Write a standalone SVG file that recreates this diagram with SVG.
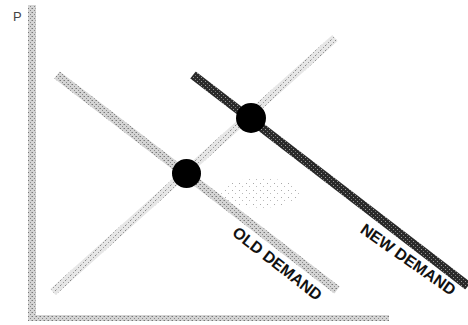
<svg xmlns="http://www.w3.org/2000/svg" width="468" height="325" viewBox="0 0 468 325">
  <defs>
    <pattern id="stipLight" patternUnits="userSpaceOnUse" width="5" height="5">
      <rect width="5" height="5" fill="#e6e6e6"/>
      <rect x="0" y="0" width="1" height="1" fill="#888"/>
      <rect x="3" y="2" width="1" height="1" fill="#999"/>
      <rect x="1" y="4" width="1" height="1" fill="#bbb"/>
    </pattern>
    <pattern id="stipMid" patternUnits="userSpaceOnUse" width="4" height="4">
      <rect width="4" height="4" fill="#d4d4d4"/>
      <rect x="0" y="0" width="1" height="1" fill="#777"/>
      <rect x="2" y="2" width="1" height="1" fill="#888"/>
      <rect x="3" y="0" width="1" height="1" fill="#aaa"/>
    </pattern>
    <pattern id="stipDark" patternUnits="userSpaceOnUse" width="4" height="4">
      <rect width="4" height="4" fill="#2a2a2a"/>
      <rect x="1" y="1" width="1" height="1" fill="#9a9a9a"/>
      <rect x="3" y="3" width="1" height="1" fill="#777"/>
    </pattern>
    <pattern id="stipBlob" patternUnits="userSpaceOnUse" width="7" height="7">
      <rect width="7" height="7" fill="#fff"/>
      <rect x="1" y="1" width="1" height="1" fill="#aaa"/>
      <rect x="4" y="4" width="1" height="1" fill="#bbb"/>
    </pattern>
  </defs>
  <style>
    .axis { stroke: url(#stipMid); fill: none; }
    .supply { stroke: url(#stipLight); stroke-width: 8; fill: none; }
    .old { stroke: url(#stipMid); stroke-width: 9; fill: none; }
    .new { stroke: url(#stipDark); stroke-width: 9; fill: none; }
    .eq { fill: #000; }
    .lbl { font-family: "Liberation Sans", Arial, sans-serif; font-weight: bold; font-size: 16px; fill: #111; text-anchor: middle; }
    .axlbl { font-family: "Liberation Sans", Arial, sans-serif; font-size: 13px; fill: #444; }
  </style>
  <rect width="468" height="325" fill="#fff"/>

  <g id="axes">
    <line class="axis" x1="32" y1="5" x2="32" y2="321" stroke-width="8"/>
    <line class="axis" x1="28" y1="318" x2="389" y2="318" stroke-width="6"/>
    <text class="axlbl" x="13" y="21">P</text>
  </g>

  <g id="blob">
    <ellipse cx="261" cy="193" rx="40" ry="15" fill="url(#stipBlob)"/>
  </g>

  <g id="connectors">
    <line id="supply" class="supply" x1="53" y1="292" x2="335" y2="38"/>
    <line id="old-demand" class="old" x1="57" y1="75" x2="337" y2="290"/>
    <line id="new-demand" class="new" x1="193" y1="75" x2="468" y2="286"/>
  </g>

  <g id="old-equilibrium">
    <circle class="eq" cx="186.5" cy="173.5" r="14.5"/>
  </g>
  <g id="new-equilibrium">
    <circle class="eq" cx="251" cy="118" r="15"/>
  </g>

  <g id="old-demand-label">
    <text class="lbl" transform="translate(274,268) rotate(38)">OLD DEMAND</text>
  </g>
  <g id="new-demand-label">
    <text class="lbl" transform="translate(405,264) rotate(35)">NEW DEMAND</text>
  </g>
</svg>
